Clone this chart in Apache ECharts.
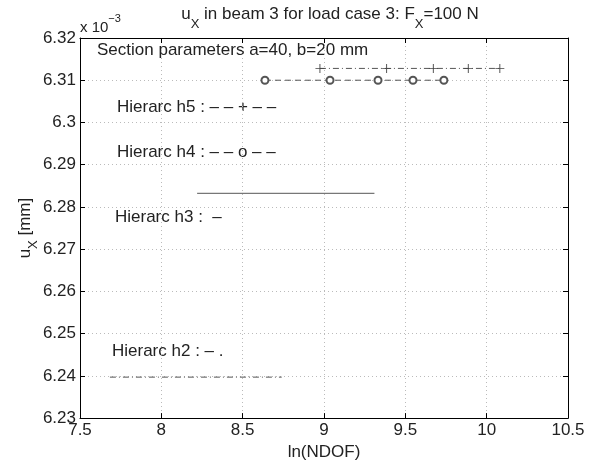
<!DOCTYPE html>
<html><head><meta charset="utf-8">
<script src="https://cdn.jsdelivr.net/npm/echarts@6/dist/echarts.min.js"></script>
<style>html,body{margin:0;padding:0;background:#fff}#c{width:591px;height:466px}</style>
</head><body><div id="c"></div>
<script>
const xTicks = [7.5, 8, 8.5, 9, 9.5, 10, 10.5];
const yTicks = [6.23, 6.24, 6.25, 6.26, 6.27, 6.28, 6.29, 6.3, 6.31, 6.32];
const h5X = [8.975, 9.385, 9.672, 9.887, 10.081];
const h5Y = [6.3128, 6.3128, 6.3128, 6.3128, 6.3128];
const h4X = [8.637, 9.037, 9.332, 9.547, 9.737];
const h4Y = [6.3100, 6.3100, 6.3100, 6.3100, 6.3100];
const h3X = [8.22, 9.31];
const h3Y = [6.2832, 6.2832];
const h2X = [7.684, 8.74];
const h2Y = [6.2397, 6.2397];

const FONT = "'Liberation Sans', Arial, sans-serif";
const FS = 17;
const pairs = (xs, ys) => xs.map((x, i) => [x, ys[i]]);
const chart = echarts.init(document.getElementById('c'));
const plusPath = 'path://M-0.5,-5H0.5V-0.5H5V0.5H0.5V5H-0.5V0.5H-5V-0.5H-0.5Z';
const txt = {fontFamily: FONT, fontSize: FS, fill: '#222'};
chart.setOption({
  animation: false,
  backgroundColor: '#fff',
  title: {
    text: '{a|u}{s|X}{a| in beam 3 for load case 3: F}{s|X}{a|=100 N}',
    left: 325, top: 0, textAlign: 'center',
    textStyle: {
      fontFamily: FONT, fontWeight: 'normal',
      rich: {
        a: {fontFamily: FONT, fontSize: FS, color: '#222', lineHeight: 26, verticalAlign: 'top', padding: [1,0,0,0]},
        s: {fontFamily: FONT, fontSize: 13, color: '#222', lineHeight: 26, verticalAlign: 'bottom'}
      }
    }
  },
  grid: {left: 80, top: 38, right: 23, bottom: 45, containLabel: false},
  xAxis: [{
    type: 'value', min: 7.5, max: 10.5, interval: 0.5,
    name: 'ln(NDOF)', nameLocation: 'middle', nameGap: 22,
    nameTextStyle: {fontFamily: FONT, fontSize: FS, color: '#222'},
    axisLine: {lineStyle: {color: '#000', width: 1}},
    axisTick: {inside: true, length: 5, lineStyle: {color: '#000'}},
    axisLabel: {fontFamily: FONT, fontSize: FS, color: '#222', margin: 4},
    splitLine: {show: true, lineStyle: {type: [1, 3], color: '#bbb'}}
  }, {
    type: 'value', min: 7.5, max: 10.5, interval: 0.5, position: 'top',
    axisLine: {lineStyle: {color: '#000', width: 1}},
    axisTick: {inside: true, length: 5, lineStyle: {color: '#000'}},
    axisLabel: {show: false}, splitLine: {show: false}
  }],
  yAxis: [{
    type: 'value', min: 6.23, max: 6.32, interval: 0.01,
    name: '{a|u}{s|X}{a| [mm]}', nameLocation: 'middle', nameGap: 40, nameRotate: 90,
    nameMoveOverlap: false,
    nameTextStyle: {
      rich: {
        a: {fontFamily: FONT, fontSize: FS, color: '#222', lineHeight: 24, verticalAlign: 'top', padding: [1,0,0,0]},
        s: {fontFamily: FONT, fontSize: 13, color: '#222', lineHeight: 24, verticalAlign: 'bottom'}
      }
    },
    axisLine: {show: true, lineStyle: {color: '#000', width: 1}},
    axisTick: {show: true, inside: true, length: 5, lineStyle: {color: '#000'}},
    axisLabel: {fontFamily: FONT, fontSize: FS, color: '#222', margin: 4,
      formatter: v => String(parseFloat(v.toFixed(2)))},
    splitLine: {show: true, lineStyle: {type: [1, 3], color: '#bbb'}}
  }, {
    type: 'value', min: 6.23, max: 6.32, interval: 0.01, position: 'right',
    axisLine: {show: true, lineStyle: {color: '#000', width: 1}},
    axisTick: {show: true, inside: true, length: 5, lineStyle: {color: '#000'}},
    axisLabel: {show: false}, splitLine: {show: false}
  }],
  series: [
    {type: 'line', name: 'h5', data: pairs(h5X, h5Y), symbol: plusPath, symbolSize: 9,
      itemStyle: {color: '#444'}, lineStyle: {color: '#555', width: 1, type: [6, 3, 1, 3]}},
    {type: 'line', name: 'h4', data: pairs(h4X, h4Y), symbol: 'emptyCircle', symbolSize: 7,
      itemStyle: {color: '#555', borderWidth: 1}, lineStyle: {color: '#555', width: 1, type: [6, 4]}},
    {type: 'line', name: 'h3', data: pairs(h3X, h3Y), symbol: 'none',
      lineStyle: {color: '#777', width: 1.2, type: 'solid'}},
    {type: 'line', name: 'h2', data: pairs(h2X, h2Y), symbol: 'none',
      lineStyle: {color: '#555', width: 1, type: [6, 3, 1, 3]}}
  ],
  graphic: [
    {type: 'text', left: 80, top: 13, style: {
      text: '{a|x 10}{p|−3}', rich: {
        a: {fontFamily: FONT, fontSize: 15, fill: '#222', lineHeight: 22, verticalAlign: 'bottom'},
        p: {fontFamily: FONT, fontSize: 11, fill: '#222', lineHeight: 22, verticalAlign: 'top'}
      }}},
    {type: 'text', left: 97, top: 42, style: Object.assign({text: 'Section parameters a=40, b=20 mm'}, txt)},
    {type: 'text', left: 117, top: 99, style: Object.assign({text: 'Hierarc h5 : – – + – –'}, txt)},
    {type: 'text', left: 117, top: 144, style: Object.assign({text: 'Hierarc h4 : – – o – –'}, txt)},
    {type: 'text', left: 115, top: 209, style: Object.assign({text: 'Hierarc h3 :  –'}, txt)},
    {type: 'text', left: 112, top: 343, style: Object.assign({text: 'Hierarc h2 : – .'}, txt)}
  ]
});
</script></body></html>
